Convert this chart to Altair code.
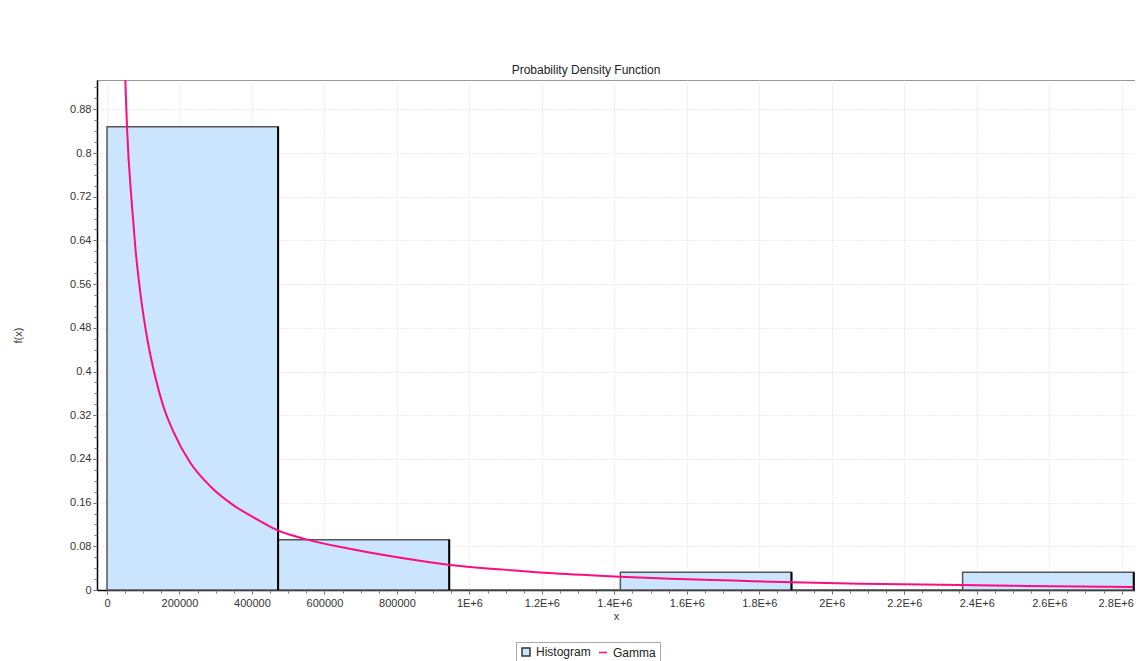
import altair as alt
import pandas as pd

# ---- data ----
bin_start = [0, 472200, 944400, 1416600, 1888800, 2361000]
bin_end = [472200, 944400, 1416600, 1888800, 2361000, 2833200]
hist_value = [0.848, 0.092, 0.0, 0.0324, 0.0, 0.0324]

gamma_x = [50500, 55200, 69000, 78100, 89900, 108400, 133200, 156100, 183700,
           229800, 285000, 349200, 404400, 468100, 542300, 680300, 818200,
           947000, 1094000, 1232000, 1416000, 1554000, 1728000, 1893000,
           2078000, 2354000, 2539000, 2831000]
gamma_y = [0.934, 0.847, 0.703, 0.628, 0.555, 0.470, 0.390, 0.335, 0.289,
           0.233, 0.190, 0.155, 0.133, 0.110, 0.0940, 0.074, 0.058,
           0.0458, 0.0373, 0.0305, 0.0243, 0.0208, 0.0173, 0.0141,
           0.0116, 0.0092, 0.0075, 0.0055]

series_names = ["Histogram", "Gamma"]

x_ticks = [0, 200000, 400000, 600000, 800000, 1000000, 1200000, 1400000,
           1600000, 1800000, 2000000, 2200000, 2400000, 2600000, 2800000]
x_minor_ticks = [i * 50000 for i in range(0, 57)]
y_ticks = [0, 0.08, 0.16, 0.24, 0.32, 0.4, 0.48, 0.56, 0.64, 0.72, 0.8, 0.88]
y_minor_ticks = [round(i * 0.02, 2) for i in range(0, 47)]

x_min, x_max = -27600, 2836700
y_max = 0.9337

hist_df = pd.DataFrame({"start": bin_start, "end": bin_end, "value": hist_value})
gamma_df = pd.DataFrame({"x": gamma_x, "y": gamma_y})
legend_df = pd.DataFrame({"series": series_names, "x": [0, 0], "y": [0, 0]})

FONT = "Liberation Sans"
PINK = "#FF0A84"
BLUE = "#CCE5FF"

xscale = alt.Scale(domain=[x_min, x_max], nice=False, zero=False)
yscale = alt.Scale(domain=[0, y_max], nice=False, zero=False)

x_axis = alt.Axis(
    values=x_ticks,
    labelExpr="datum.value < 1000000 ? format(datum.value, 'd') : format(datum.value / 1000000, '~g') + 'E+6'",
    labelOffset={"condition": {"test": "datum.value >= 2800000", "value": -6}, "value": 0},
    title="x", titlePadding=2, grid=True, gridDash=[1, 2], gridColor="#d9d9d9",
    tickSize=4, tickColor="#555", labelPadding=3, labelOverlap=False, labelFlush=False,
    domainColor="#000", domainWidth=1.5,
)
y_axis = alt.Axis(
    values=y_ticks, format=".2~f", title="f(x)", titlePadding=46, grid=True, gridDash=[1, 2],
    gridColor="#d9d9d9", tickSize=4, tickColor="#555", labelPadding=2,
    labelOverlap=False, labelFlush=False, domainColor="#000", domainWidth=1.5,
)
x_minor = alt.Axis(values=x_minor_ticks, labels=False, domain=False, grid=False,
                   ticks=True, tickSize=3, tickColor="#777", title=None, orient="bottom")
y_minor = alt.Axis(values=y_minor_ticks, labels=False, domain=False, grid=False,
                   ticks=True, tickSize=3, tickColor="#777", title=None, orient="left")

bars = alt.Chart(hist_df).mark_rect(fill=BLUE, stroke="#555", strokeWidth=1.5).encode(
    x=alt.X("start:Q", scale=xscale, axis=x_axis),
    x2="end:Q",
    y=alt.Y("value:Q", scale=yscale, axis=y_axis),
    y2=alt.datum(0),
)

edges = alt.Chart(hist_df).mark_rule(color="#000", strokeWidth=2).encode(
    x=alt.X("end:Q", scale=xscale, axis=None),
    y=alt.Y("value:Q", scale=yscale, axis=None),
    y2=alt.datum(0),
)

line = alt.Chart(gamma_df).mark_line(color=PINK, strokeWidth=2, interpolate="monotone", clip=True).encode(
    x=alt.X("x:Q", scale=xscale, axis=x_minor),
    y=alt.Y("y:Q", scale=yscale, axis=y_minor),
)

leg = alt.Legend(
    title=None, orient="none", legendX=419, legendY=562, direction="horizontal",
    strokeColor="#aaa", padding=4, symbolSize=64, labelFont=FONT, labelFontSize=12,
    labelColor="#222", labelOffset=4, columnPadding=5, symbolStrokeWidth=1.5,
    fillColor="white",
)

legend_layer = alt.Chart(legend_df).mark_point(filled=True, opacity=1).transform_filter("false").encode(
    x=alt.X("x:Q", scale=xscale, axis=None),
    y=alt.Y("y:Q", scale=yscale, axis=None),
    fill=alt.Fill("series:N", scale=alt.Scale(domain=series_names, range=[BLUE, PINK]), legend=leg),
    stroke=alt.Stroke("series:N", scale=alt.Scale(domain=series_names, range=["#333", PINK]), legend=leg),
    shape=alt.Shape("series:N", scale=alt.Scale(domain=series_names, range=["square", "stroke"]), legend=leg),
)

chart = alt.layer(bars, edges, line, legend_layer).resolve_axis(
    x="independent", y="independent"
).properties(
    width=1038, height=510,
    padding={"left": 89, "top": 72, "right": 0, "bottom": 71},
    autosize=alt.AutoSizeParams(type="none"),
    title=alt.TitleParams("Probability Density Function", font=FONT, fontSize=12,
                          fontWeight="normal", color="#222", dx=-30, offset=3),
).configure_view(stroke="#999", strokeWidth=1).configure_axis(
    labelFont=FONT, labelFontSize=11, labelColor="#333",
    titleFont=FONT, titleFontSize=11, titleFontWeight="normal", titleColor="#333",
)

chart.save("out.html", embed_options={"renderer": "svg", "actions": False})
